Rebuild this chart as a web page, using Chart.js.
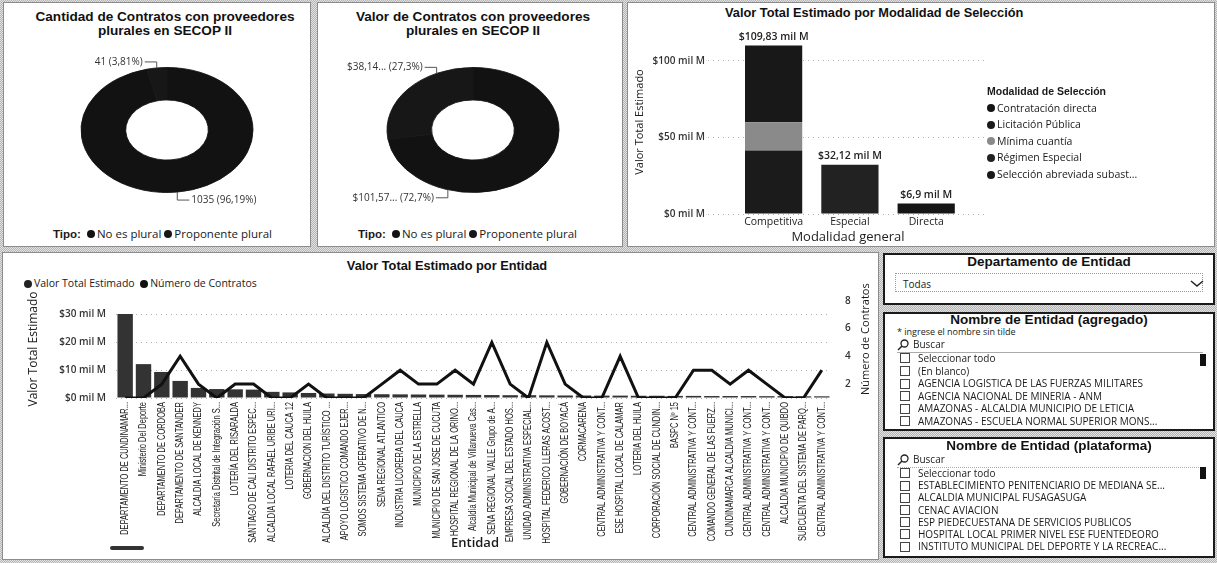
<!DOCTYPE html>
<html><head><meta charset="utf-8">
<script src="https://cdn.jsdelivr.net/npm/chart.js@4.4.1/dist/chart.umd.min.js"></script>
<style>
html,body{margin:0;padding:0;}
body{width:1217px;height:563px;position:relative;overflow:hidden;
 background:repeating-conic-gradient(#b5b5b5 0 25%, #e2e2e2 0 50%) 0 0/2px 2px;
 font-family:"Open Sans","Noto Sans",sans-serif;color:#1a1a1a;}
.panel{position:absolute;background:#fff;box-sizing:border-box;}
.gpanel{border:1px solid #8c8c8c;}
.bpanel{border:2px solid #1a1a1a;}
.abs{position:absolute;white-space:nowrap;}
.ttl{font-family:"Liberation Sans",Arial,sans-serif;font-weight:bold;color:#111;text-align:center;}
.chart{position:absolute;}
.dot{display:inline-block;width:8px;height:8px;border-radius:50%;vertical-align:middle;margin:0 2px 1px 0;}
.leg{font-size:10.5px;line-height:14px;}
.item{position:absolute;left:900px;font-size:10px;line-height:12px;white-space:nowrap;overflow:hidden;width:305px;}
.cb{display:inline-block;width:8px;height:8px;border:1px solid #444;vertical-align:middle;margin:0 8px 2px 0;}
.thumb{position:absolute;width:6px;background:#111;}
</style>
</head><body>

<!-- panels -->
<div class="panel gpanel" style="left:3px;top:2px;width:308px;height:245px;"></div>
<div class="panel gpanel" style="left:317px;top:2px;width:306px;height:245px;"></div>
<div class="panel gpanel" style="left:627px;top:2px;width:588px;height:245px;"></div>
<div class="panel gpanel" style="left:2px;top:252px;width:877px;height:308px;"></div>
<div class="panel bpanel" style="left:883px;top:253px;width:332px;height:52px;"></div>
<div class="panel bpanel" style="left:883px;top:312px;width:332px;height:119px;"></div>
<div class="panel bpanel" style="left:883px;top:437px;width:332px;height:121px;"></div>

<!-- donut 1 -->
<div class="abs ttl" style="left:10px;top:10px;width:310px;font-size:13.6px;line-height:14px;white-space:normal;">Cantidad de Contratos con proveedores<br>plurales en SECOP II</div>
<div class="chart" style="left:3px;top:40px;width:307px;height:180px;"><canvas id="d1"></canvas></div>
<div class="abs leg" id="leg1" style="left:53px;top:227px;font-size:11.5px;"></div>

<!-- donut 2 -->
<div class="abs ttl" style="left:318px;top:10px;width:310px;font-size:13.6px;line-height:14px;white-space:normal;">Valor de Contratos con proveedores<br>plurales en SECOP II</div>
<div class="chart" style="left:318px;top:40px;width:304px;height:180px;"><canvas id="d2"></canvas></div>
<div class="abs leg" id="leg2" style="left:358px;top:227px;font-size:11.5px;"></div>

<!-- modalidad bar chart -->
<div class="abs ttl" style="left:725px;top:5px;font-size:12.8px;line-height:16px;">Valor Total Estimado por Modalidad de Selección</div>
<div class="chart" style="left:628px;top:18px;width:360px;height:228px;"><canvas id="c3"></canvas></div>
<div class="abs" id="leg3" style="left:987px;top:83px;font-size:10.5px;line-height:16.6px;"></div>

<!-- entidad combo chart -->
<div class="abs ttl" style="left:247px;top:258px;width:400px;font-size:12.8px;line-height:16px;">Valor Total Estimado por Entidad</div>
<div class="abs leg" id="leg4" style="left:24px;top:276px;"></div>
<div class="chart" style="left:3px;top:280px;width:875px;height:270px;"><canvas id="c4"></canvas></div>
<div class="abs" style="left:817px;top:340px;width:96px;height:14px;font-size:11px;line-height:14px;text-align:center;transform:rotate(-90deg);">Número de Contratos</div>
<div class="abs" style="left:440px;top:534px;width:70px;text-align:center;font-size:13px;font-weight:600;line-height:17px;">Entidad</div>
<div class="abs" style="left:110px;top:546px;width:34px;height:4px;background:#333;border-radius:2px;"></div>

<!-- slicer: departamento -->
<div class="abs ttl" style="left:883px;top:254px;width:332px;font-size:13.5px;line-height:16px;">Departamento de Entidad</div>
<div class="abs" style="left:895px;top:273px;width:308px;height:19px;border:1px dotted #999;box-sizing:border-box;"></div>
<div class="abs" style="left:903px;top:277px;font-size:10px;line-height:14px;">Todas</div>
<svg class="abs" style="left:1190px;top:279px;" width="14" height="9"><polyline points="1,2 7,7 13,2" fill="none" stroke="#222" stroke-width="1.5"/></svg>

<!-- slicer: agregado -->
<div class="abs ttl" style="left:883px;top:312px;width:332px;font-size:13.5px;line-height:16px;">Nombre de Entidad (agregado)</div>
<div class="abs" style="left:897px;top:326px;font-size:9px;line-height:11px;">* ingrese el nombre sin tilde</div>
<svg class="abs" style="left:897px;top:339px;" width="12" height="12"><circle cx="7.5" cy="4.5" r="3.5" fill="none" stroke="#222" stroke-width="1.3"/><line x1="5" y1="7" x2="1" y2="11" stroke="#222" stroke-width="1.5"/></svg>
<div class="abs" style="left:913px;top:338px;font-size:10px;line-height:13px;">Buscar</div>
<div class="abs" style="left:897px;top:352px;width:306px;height:0;border-top:1px solid #aaa;"></div>
<div id="list1"></div>
<div class="thumb" style="left:1200px;top:354px;height:12px;"></div>

<!-- slicer: plataforma -->
<div class="abs ttl" style="left:883px;top:438px;width:332px;font-size:13.5px;line-height:16px;">Nombre de Entidad (plataforma)</div>
<svg class="abs" style="left:897px;top:454px;" width="12" height="12"><circle cx="7.5" cy="4.5" r="3.5" fill="none" stroke="#222" stroke-width="1.3"/><line x1="5" y1="7" x2="1" y2="11" stroke="#222" stroke-width="1.5"/></svg>
<div class="abs" style="left:913px;top:453px;font-size:10px;line-height:13px;">Buscar</div>
<div class="abs" style="left:897px;top:467px;width:306px;height:0;border-top:1px dotted #aaa;"></div>
<div id="list2"></div>
<div class="thumb" style="left:1200px;top:467px;height:12px;"></div>

<script>
// ---------------- DATA ----------------
const donutTipos = ['No es plural', 'Proponente plural'];
const donutColors = ['#121212', '#171717'];
const cantidadContratos = [1035, 41];
const valorContratos = [101.57, 38.14];

const modalCategories = ['Competitiva', 'Especial', 'Directa'];
const modalSeries = ['Contratación directa', 'Licitación Pública', 'Mínima cuantía', 'Régimen Especial', 'Selección abreviada subasta inversa'];
const contratacionDirecta = [0, 0, 6.9];
const licitacionPublica = [41.4, 0, 0];
const minimaCuantia = [18.5, 0, 0];
const regimenEspecial = [0, 32.12, 0];
const seleccionAbreviada = [49.93, 0, 0];
const modalTicks = [0, 50, 100];

const entidades = [
 'DEPARTAMENTO DE CUNDINAMAR...', 'Ministerio Del Deporte', 'DEPARTAMENTO DE CORDOBA', 'DEPARTAMENTO DE SANTANDER',
 'ALCALDIA LOCAL DE KENNEDY', 'Secretaría Distrital de Integración S...', 'LOTERÍA DEL RISARALDA', 'SANTIAGO DE CALI DISTRITO ESPEC...',
 'ALCALDIA LOCAL RAFAEL URIBE URI...', 'LOTERIA DEL CAUCA 12', 'GOBERNACION DEL HUILA', 'ALCALDÍA DEL DISTRITO TURÍSTICO ...',
 'APOYO LOGISTICO COMANDO EJER...', 'SOMOS SISTEMA OPERATIVO DE N...', 'SENA REGIONAL ATLANTICO', 'INDUSTRIA LICORERA DEL CAUCA',
 'MUNICIPIO DE LA ESTRELLA', 'MUNICIPIO DE SAN JOSE DE CUCUTA', 'HOSPITAL REGIONAL DE LA ORINO...', 'Alcaldía Municipal de Villanueva Cas...',
 'SENA REGIONAL VALLE Grupo de A...', 'EMPRESA SOCIAL DEL ESTADO HOS...', 'UNIDAD ADMINISTRATIVA ESPECIAL...', 'HOSPITAL FEDERICO LLERAS ACOST...',
 'GOBERNACIÓN DE BOYACÁ', 'CORMACARENA', 'CENTRAL ADMINISTRATIVA Y CONT...', 'ESE HOSPITAL LOCAL DE CALAMAR',
 'LOTERIA DEL HUILA', 'CORPORACIÓN SOCIAL DE CUNDIN...', 'BASPC Nº 15', 'CENTRAL ADMINISTRATIVA Y CONT...',
 'COMANDO GENERAL DE LAS FUERZ...', 'CUNDINAMARCA ALCALDIA MUNICI...', 'CENTRAL ADMINISTRATIVA Y CONT...', 'CENTRAL ADMINISTRATIVA Y CONT...',
 'ALCALDIA MUNICIPIO DE QUIBDO', 'SUBCUENTA DEL SISTEMA DE PARQ...', 'CENTRAL ADMINISTRATIVA Y CONT...'
];
const valorTotalEstimado = [30.0, 12.1, 9.3, 6.1, 3.6, 3.2, 3.1, 3.0, 2.2, 2.0, 1.8, 1.6, 1.5, 1.4, 1.35, 1.3, 1.25, 1.2, 1.15, 1.1,
 1.05, 1.0, 1.0, 0.95, 0.9, 0.9, 0.85, 0.85, 0.8, 0.8, 0.75, 0.75, 0.7, 0.7, 0.7, 0.65, 0.65, 0.6, 0.6];
const numeroContratos = [1, 1, 2, 4, 2, 1, 2, 2, 1, 1, 2, 1, 1, 1, 2, 3, 2, 2, 3, 2, 5, 2, 1, 5, 2, 1, 1, 4, 1, 1, 1, 3, 3, 2, 3, 2, 1, 1, 3];
const entLeftTicks = [0, 10, 20, 30];
const entRightTicks = [2, 4, 6, 8];

const listaAgregado = ['Seleccionar todo', '(En blanco)', 'AGENCIA LOGISTICA DE LAS FUERZAS MILITARES', 'AGENCIA NACIONAL DE MINERIA - ANM',
 'AMAZONAS - ALCALDIA MUNICIPIO DE LETICIA', 'AMAZONAS - ESCUELA NORMAL SUPERIOR MONS...'];
const listaPlataforma = ['Seleccionar todo', 'ESTABLECIMIENTO PENITENCIARIO DE MEDIANA SE...', 'ALCALDIA MUNICIPAL FUSAGASUGA', 'CENAC AVIACION',
 'ESP PIEDECUESTANA DE SERVICIOS PUBLICOS', 'HOSPITAL LOCAL PRIMER NIVEL ESE FUENTEDEORO', 'INSTITUTO MUNICIPAL DEL DEPORTE Y LA RECREAC...'];

// ---------------- helpers ----------------
const modalValues = [contratacionDirecta, licitacionPublica, minimaCuantia, regimenEspecial, seleccionAbreviada];
const modalColors = ['#151515', '#1b1b1b', '#8a8a8a', '#222222', '#181818'];
const fmtNum = v => String(parseFloat(v.toFixed(2))).replace('.', ',');

Chart.defaults.font.family = "'Open Sans','Noto Sans',sans-serif";
Chart.defaults.color = '#222';
Chart.defaults.animation = false;

function tipoLegend(id) {
  let h = '<b style="font-family:Liberation Sans,Arial;">Tipo:</b>&nbsp;&nbsp;';
  donutTipos.forEach((t, i) => { h += '<span class="dot" style="background:' + donutColors[i] + '"></span>' + t + '&nbsp;'; });
  document.getElementById(id).innerHTML = h;
}
tipoLegend('leg1'); tipoLegend('leg2');
(function () {
  let h = '<div style="font-family:Liberation Sans,Arial;font-weight:bold;font-size:10.5px;">Modalidad de Selección</div>';
  modalSeries.forEach((s, i) => {
    const txt = s.length > 28 ? s.slice(0, 26) + '...' : s;
    h += '<div><span class="dot" style="background:' + modalColors[i] + '"></span>' + txt + '</div>';
  });
  document.getElementById('leg3').innerHTML = h;
})();
document.getElementById('leg4').innerHTML =
  '<span class="dot" style="background:#222"></span>Valor Total Estimado&nbsp;&nbsp;<span class="dot" style="background:#111"></span>Número de Contratos';
function buildList(id, arr, y0, step) {
  let h = '';
  arr.forEach((t, i) => { h += '<div class="item" style="top:' + (y0 + i * step) + 'px"><span class="cb"></span>' + t + '</div>'; });
  document.getElementById(id).innerHTML = h;
}
buildList('list1', listaAgregado, 352, 12.6);
buildList('list2', listaPlataforma, 467, 12.2);

// ---------------- donut plugin ----------------
const donutDeco = {
  id: 'donutDeco',
  beforeDatasetsDraw(chart, args, o) {
    const a = chart.getDatasetMeta(0).data[0];
    const c = chart.ctx;
    c.save(); c.translate(a.x, a.y); c.scale(1, o.k); c.translate(-a.x, -a.y);
  },
  afterDatasetsDraw(chart, args, o) {
    const c = chart.ctx;
    c.restore();
    const meta = chart.getDatasetMeta(0);
    const vals = chart.data.datasets[0].data;
    const tot = vals.reduce((s, v) => s + v, 0);
    c.save();
    c.font = '10px "Open Sans", sans-serif';
    c.fillStyle = '#333'; c.strokeStyle = '#555'; c.lineWidth = 1;
    c.textBaseline = 'middle';
    meta.data.forEach((el, j) => {
      const mid = o.angles ? o.angles[j] * Math.PI / 180 : (el.startAngle + el.endAngle) / 2;
      const R = el.outerRadius;
      const ax = el.x + R * Math.cos(mid), ay = el.y + R * o.k * Math.sin(mid);
      const up = Math.sin(mid) < 0, left = Math.cos(mid) < 0;
      const ey = ay + (up ? -6 : 8);
      const ex = ax + (left ? -12 : 12);
      c.beginPath(); c.moveTo(ax, ay); c.lineTo(ax, ey); c.lineTo(ex, ey); c.stroke();
      const pct = fmtNum(vals[j] / tot * 100);
      const txt = o.fmt(vals[j]) + ' (' + pct + '%)';
      c.textAlign = left ? 'right' : 'left';
      c.fillText(txt, ex + (left ? -2 : 2), ey);
    });
    c.restore();
  }
};

function donut(id, values, padLeft, fmt, angles) {
  new Chart(document.getElementById(id), {
    type: 'doughnut',
    data: { labels: donutTipos, datasets: [{ data: values, backgroundColor: donutColors, borderColor: donutColors, borderWidth: 1 }] },
    options: {
      responsive: true, maintainAspectRatio: false,
      radius: 86, cutout: 43,
      layout: { padding: { left: padLeft, right: 0, top: 0, bottom: 0 } },
      plugins: { legend: { display: false }, tooltip: { enabled: false },
        donutDeco: { k: 0.727, fmt: fmt, angles: angles } }
    },
    plugins: [donutDeco]
  });
}
donut('d1', cantidadContratos, 21, v => String(v), null);
donut('d2', valorContratos, 6, v => '$' + fmtNum(v) + '...', [107, 245]);

// ---------------- modalidad stacked bar ----------------
const totalLabels = {
  id: 'totalLabels',
  afterDatasetsDraw(chart) {
    const c = chart.ctx, xs = chart.scales.x, ys = chart.scales.y;
    c.save();
    c.font = '600 10.5px "Open Sans", sans-serif';
    c.fillStyle = '#222'; c.textAlign = 'center'; c.textBaseline = 'bottom';
    modalCategories.forEach((cat, i) => {
      const tot = modalValues.reduce((s, arr) => s + arr[i], 0);
      c.fillText('$' + fmtNum(tot) + ' mil M', xs.getPixelForValue(i), ys.getPixelForValue(tot) - 3);
    });
    c.restore();
  }
};
new Chart(document.getElementById('c3'), {
  type: 'bar',
  data: {
    datasets: modalSeries.map((name, k) => ({
      label: name,
      data: modalValues[k].map((v, i) => ({ x: i, y: v })),
      backgroundColor: modalColors[k], borderWidth: 0,
      barPercentage: 0.75, categoryPercentage: 1
    }))
  },
  options: {
    responsive: true, maintainAspectRatio: false,
    layout: { padding: { top: 12, right: 0, bottom: 0, left: 0 } },
    plugins: { legend: { display: false }, tooltip: { enabled: false } },
    scales: {
      x: {
        type: 'linear', min: -0.86, max: 2.81, stacked: true, offset: false,
        afterBuildTicks: s => { s.ticks = modalCategories.map((c, i) => ({ value: i })); },
        ticks: { callback: v => modalCategories[v], padding: 2, font: { size: 10.5 }, color: '#222' },
        grid: { display: false, drawTicks: false }, border: { display: false },
        title: { display: true, text: 'Modalidad general', font: { size: 13 }, color: '#222', padding: { top: 0, bottom: 1 } },
        afterFit: s => { s.height = 32; }
      },
      y: {
        stacked: true, min: 0, max: 120,
        afterBuildTicks: s => { s.ticks = modalTicks.map(v => ({ value: v })); },
        ticks: { callback: v => '$' + v + ' mil M', padding: 3, font: { size: 10, weight: '600' }, color: '#333' },
        grid: { color: '#b0b0b0', drawTicks: false, lineWidth: 1 },
        border: { display: false, dash: [1, 4] },
        title: { display: true, text: 'Valor Total Estimado', font: { size: 11 }, color: '#222', padding: { top: 5, bottom: 0 } },
        afterFit: s => { s.width = 80; }
      }
    }
  },
  plugins: [totalLabels]
});

// ---------------- entidad combo ----------------
const narrowLabels = {
  id: 'narrowLabels',
  afterDraw(chart) {
    const c = chart.ctx, xs = chart.scales.x;
    c.save();
    c.font = '10px "Liberation Sans", Arial, sans-serif';
    c.fillStyle = '#222'; c.textAlign = 'right'; c.textBaseline = 'middle';
    chart.data.labels.forEach((lab, i) => {
      const x = xs.getPixelForTick(i);
      c.save(); c.translate(x, xs.top + 4); c.rotate(-Math.PI / 2); c.scale(0.75, 1);
      c.fillText(lab, 0, 0);
      c.restore();
    });
    c.restore();
  }
};
new Chart(document.getElementById('c4'), {
  type: 'bar',
  data: {
    labels: entidades,
    datasets: [
      { type: 'line', label: 'Número de Contratos', data: numeroContratos, yAxisID: 'y1',
        borderColor: '#111', backgroundColor: '#111', borderWidth: 3, pointRadius: 0, tension: 0, order: 0 },
      { type: 'bar', label: 'Valor Total Estimado', data: valorTotalEstimado, yAxisID: 'y',
        backgroundColor: '#333', borderWidth: 0, barPercentage: 0.84, categoryPercentage: 1, order: 1 }
    ]
  },
  options: {
    responsive: true, maintainAspectRatio: false,
    layout: { padding: { top: 0, right: 0, bottom: 0, left: 0 } },
    plugins: { legend: { display: false }, tooltip: { enabled: false } },
    scales: {
      x: {
        grid: { display: false, drawTicks: false }, border: { display: false },
        ticks: { display: false, autoSkip: false },
        afterFit: s => { s.height = 152; }
      },
      y: {
        position: 'left', min: 0, max: 35,
        afterBuildTicks: s => { s.ticks = entLeftTicks.map(v => ({ value: v })); },
        ticks: { callback: v => '$' + v + ' mil M', padding: 10, font: { size: 10, weight: '600' }, color: '#333' },
        grid: { color: '#b0b0b0', drawTicks: false },
        border: { display: false, dash: [1, 4] },
        title: { display: true, text: 'Valor Total Estimado', font: { size: 12 }, color: '#222', padding: { top: 23, bottom: 0 } },
        afterFit: s => { s.width = 113; }
      },
      y1: {
        position: 'right', min: 1, max: 8.05,
        afterBuildTicks: s => { s.ticks = entRightTicks.map(v => ({ value: v })); },
        ticks: { padding: 14, font: { size: 10, weight: '600' }, color: '#333' },
        grid: { display: false, drawTicks: false }, border: { display: false },
        afterFit: s => { s.width = 47; }
      }
    }
  },
  plugins: [narrowLabels]
});
</script>
</body></html>
